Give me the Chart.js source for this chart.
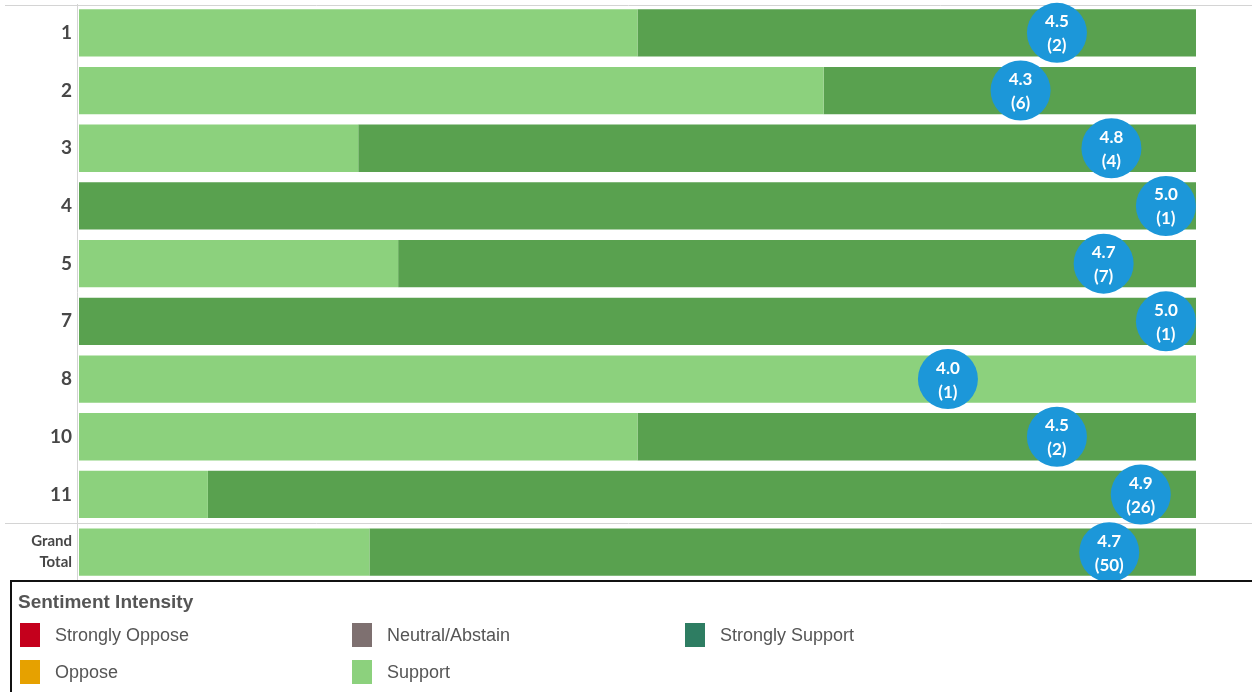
<!DOCTYPE html>
<html><head><meta charset="utf-8">
<script src="https://cdn.jsdelivr.net/npm/chart.js@4"></script>
<style>
html,body{margin:0;padding:0;background:#fff;overflow:hidden;width:1252px;height:692px}
#wrap{position:absolute;left:0;top:0;width:1252px;height:581px}
#legend{position:absolute;left:10px;top:580px;width:1260px;height:130px;border:2px solid #111;box-sizing:border-box;font-family:'Liberation Sans',Arial,sans-serif;color:#555}
#legend .title{position:absolute;left:6px;top:9px;font-weight:bold;font-size:19px;color:#555}
#legend .item{position:absolute;height:24px;line-height:24px;font-size:18px;color:#555;white-space:nowrap}
#legend .sw{display:inline-block;width:20px;height:24px;vertical-align:top;margin-right:15px}
</style>
</head><body>
<div id="wrap"><canvas id="c"></canvas></div>
<div id="legend">
  <div class="title">Sentiment Intensity</div>
</div>
<script>
// ---- data ----
const categories = ['1','2','3','4','5','7','8','10','11','Grand Total'];
const supportCounts = [1,4,1,0,2,0,1,1,3,13];
const stronglySupportCounts = [1,2,3,1,5,1,0,1,23,37];
const avgLabels = ['4.5','4.3','4.8','5.0','4.7','5.0','4.0','4.5','4.9','4.7'];
const countLabels = ['(2)','(6)','(4)','(1)','(7)','(1)','(1)','(2)','(26)','(50)'];
const legendNames = ['Strongly Oppose','Neutral/Abstain','Strongly Support','Oppose','Support'];
const legendColors = ['#C4001C','#7E7070','#2E7D62','#E6A100','#8CD17D'];

// ---- derived ----
const totals = categories.map((c,i)=>supportCounts[i]+stronglySupportCounts[i]);
const supportShare = supportCounts.map((v,i)=>v/totals[i]);
const strongShare = stronglySupportCounts.map((v,i)=>v/totals[i]);
const avgScore = categories.map((c,i)=>(4*supportCounts[i]+5*stronglySupportCounts[i])/totals[i]);

// legend
const lg = document.getElementById('legend');
const legPos = [[8,41],[340,41],[673,41],[8,78],[340,78]];
legendNames.forEach((n,i)=>{
  const d=document.createElement('div');d.className='item';
  d.style.left=legPos[i][0]+'px';d.style.top=legPos[i][1]+'px';
  d.innerHTML='<span class="sw" style="background:'+legendColors[i]+'"></span>'+n;
  lg.appendChild(d);
});

function hline(ctx,x1,x2,y){ctx.beginPath();ctx.moveTo(x1,y);ctx.lineTo(x2,y);ctx.stroke();}
function vline(ctx,x,y1,y2){ctx.beginPath();ctx.moveTo(x,y1);ctx.lineTo(x,y2);ctx.stroke();}

const overlay = {
  id:'overlay',
  beforeDatasetsDraw(chart){
    const {ctx, chartArea, scales} = chart;
    ctx.save();
    ctx.strokeStyle='#d4d4d4';ctx.lineWidth=1;
    hline(ctx,5,1252,chartArea.top+1.5);
    hline(ctx,5,1252,Math.round(scales.y.getPixelForValue(8.5))+0.5);
    vline(ctx,chartArea.left-1.5,chartArea.top,chartArea.bottom);
    ctx.restore();
  },
  afterDatasetsDraw(chart){
    const {ctx} = chart;
    const meta = chart.getDatasetMeta(2);
    ctx.save();
    ctx.fillStyle='#fff';ctx.font='bold 17px Lato';ctx.textAlign='center';ctx.textBaseline='middle';
    meta.data.forEach((el,i)=>{
      ctx.fillText(avgLabels[i], el.x, el.y-11);
      ctx.fillText(countLabels[i], el.x, el.y+13);
    });
    ctx.restore();
  }
};

new Chart(document.getElementById('c'), {
  type:'bar',
  data:{
    labels:categories,
    datasets:[
      {label:'Support',data:supportShare,backgroundColor:'#8CD17D',indexAxis:'y',xAxisID:'x',yAxisID:'y',grouped:false,stack:'s',barPercentage:0.82,categoryPercentage:1,order:1},
      {label:'Strongly Support',data:strongShare,backgroundColor:'#59A14F',indexAxis:'y',xAxisID:'x',yAxisID:'y',grouped:false,stack:'s',barPercentage:0.82,categoryPercentage:1,order:1},
      {type:'bubble',label:'Avg',data:avgScore.map((v,i)=>({x:v,y:i,r:30})),backgroundColor:'#1C97D9',borderWidth:0,xAxisID:'x2',yAxisID:'y',clip:false,order:0}
    ]
  },
  options:{
    responsive:true,maintainAspectRatio:false,animation:false,
    layout:{autoPadding:false,padding:{top:4,bottom:0,left:0,right:56}},
    plugins:{legend:{display:false},tooltip:{enabled:false}},
    scales:{
      x:{type:'linear',axis:'x',min:0,max:1,stacked:true,offset:false,display:false},
      x2:{type:'linear',axis:'x',min:0.014,max:5.138,offset:false,display:false},
      y:{type:'category',offset:true,
        grid:{display:false,drawTicks:false},border:{display:false},
        afterFit(s){s.width=79;s.paddingTop=0;s.paddingBottom=0;},
        ticks:{padding:7,color:'#474747',
          font:(c)=>c.index===9?{family:'Lato',weight:'bold',size:15,lineHeight:1.4}:{family:'Lato',weight:'bold',size:19},
          callback:(v,i)=>categories[i]==='Grand Total'?['Grand','Total']:categories[i]}
      }
    }
  },
  plugins:[overlay]
});
</script>
</body></html>
